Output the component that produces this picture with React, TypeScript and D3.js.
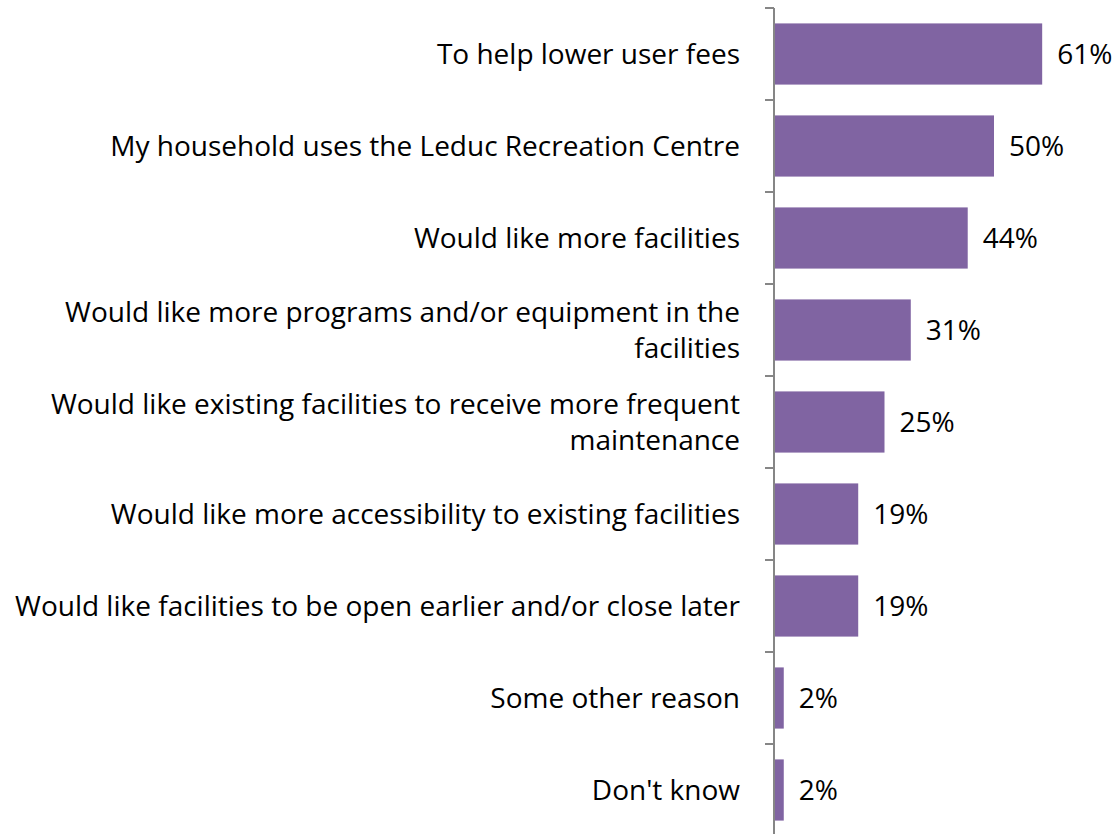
import React from "react";
import * as d3 from "d3";

const categories: string[][] = [
  ["To help lower user fees"],
  ["My household uses the Leduc Recreation Centre"],
  ["Would like more facilities"],
  ["Would like more programs and/or equipment in the", "facilities"],
  ["Would like existing facilities to receive more frequent", "maintenance"],
  ["Would like more accessibility to existing facilities"],
  ["Would like facilities to be open earlier and/or close later"],
  ["Some other reason"],
  ["Don't know"],
];
const values: number[] = [61, 50, 44, 31, 25, 19, 19, 2, 2];
const valueLabels: string[] = ["61%", "50%", "44%", "31%", "25%", "19%", "19%", "2%", "2%"];

const W = 1118;
const H = 834;
const AXIS_X = 774;
const FONT = "'Open Sans', 'Noto Sans', sans-serif";
const FS = 28;
const BAR = "#8064A2";
const AXIS = "#868686";

export default function App() {
  const idx = categories.map((_, i) => String(i));
  const y = d3.scaleBand<string>().domain(idx).range([8, 836]).paddingInner(0.335).paddingOuter(0.1675);
  const yTicks = d3.scaleBand<string>().domain(idx).range([8, 836]);
  const x = d3.scaleLinear().domain([0, 100]).range([AXIS_X + 1, AXIS_X + 1 + 438]);
  const lineH = 36;

  return (
    <svg width={W} height={H} style={{ position: "absolute", left: 0, top: 0, background: "#fff" }}>
      {values.map((v, i) => (
        <rect key={"b" + i} x={x(0)} y={y(String(i))!} width={x(v) - x(0)} height={y.bandwidth()} fill={BAR} />
      ))}
      <line x1={AXIS_X} x2={AXIS_X} y1={8} y2={H} stroke={AXIS} strokeWidth={2} />
      {idx.map((d) => (
        <line key={"t" + d} x1={AXIS_X - 9} x2={AXIS_X} y1={yTicks(d)!} y2={yTicks(d)!} stroke={AXIS} strokeWidth={2} />
      ))}
      {categories.map((lines, i) => {
        const cy = yTicks(String(i))! + yTicks.bandwidth() / 2;
        const start = cy - ((lines.length - 1) * lineH) / 2;
        return (
          <text key={"c" + i} x={AXIS_X - 34} textAnchor="end" fontFamily={FONT} fontSize={FS} fill="#000">
            {lines.map((ln, j) => (
              <tspan key={j} x={AXIS_X - 34} y={start + j * lineH} dy="0.35em">
                {ln}
              </tspan>
            ))}
          </text>
        );
      })}
      {values.map((v, i) => (
        <text
          key={"v" + i}
          x={x(v) + 15}
          y={y(String(i))! + y.bandwidth() / 2}
          dy="0.35em"
          fontFamily={FONT}
          fontSize={FS}
          fill="#000"
        >
          {valueLabels[i]}
        </text>
      ))}
    </svg>
  );
}
